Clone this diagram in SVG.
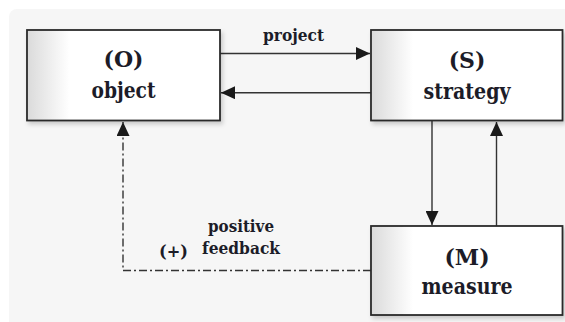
<svg xmlns="http://www.w3.org/2000/svg" width="565" height="322" viewBox="0 0 565 322">
<style>
.box{fill:url(#boxfill);stroke:#2b2b2b;stroke-width:1.8;filter:url(#shadow)}
.lbl{font-family:'DejaVu Serif',serif;font-weight:700;fill:#1c1c28;text-anchor:middle}
.big{font-size:22px}
.small{font-size:17px}
.edge{fill:none;stroke:#333;stroke-width:1.4}
.dash{stroke-dasharray:8 3 2 3}
</style>
<defs>
<linearGradient id="boxfill" x1="0" y1="0" x2="1" y2="0">
<stop offset="0" stop-color="#dadada"/>
<stop offset="0.22" stop-color="#ffffff"/>
<stop offset="1" stop-color="#ffffff"/>
</linearGradient>
<filter id="shadow" x="-10%" y="-10%" width="130%" height="130%">
<feDropShadow dx="2" dy="3" stdDeviation="2" flood-color="#000" flood-opacity="0.18"/>
</filter>
<marker id="arrow" markerUnits="userSpaceOnUse" markerWidth="15" markerHeight="13" refX="14" refY="6.5" orient="auto">
<path d="M0,0 L14,6.5 L0,13 z" fill="#1a1a1a"/>
</marker>
</defs>
<rect x="0" y="0" width="565" height="322" fill="#ffffff"/>
<rect x="9" y="9" width="580" height="340" rx="8" fill="#f6f6f6"/>
<g id="connectors">
<path class="edge" d="M220,53.5 H370" marker-end="url(#arrow)"/>
<path class="edge" d="M371,92.7 H221" marker-end="url(#arrow)"/>
<path class="edge" d="M432,121 V225" marker-end="url(#arrow)"/>
<path class="edge" d="M496.5,226 V122" marker-end="url(#arrow)"/>
<path class="edge dash" d="M371,270.5 H123 V122" marker-end="url(#arrow)"/>
<text class="lbl small" x="293.5" y="41" textLength="61" lengthAdjust="spacingAndGlyphs">project</text>
<text class="lbl small" x="241" y="232" textLength="66" lengthAdjust="spacingAndGlyphs">positive</text>
<text class="lbl small" x="241" y="253.5" textLength="78" lengthAdjust="spacingAndGlyphs">feedback</text>
<text class="lbl small" x="173.5" y="256.5" textLength="29" lengthAdjust="spacingAndGlyphs">(+)</text>
</g>
<g id="node-object">
<rect class="box" x="27" y="30" width="193" height="90.5"/>
<text class="lbl big" x="123.5" y="67">(O)</text>
<text class="lbl big" x="123.5" y="98" textLength="64" lengthAdjust="spacingAndGlyphs">object</text>
</g>
<g id="node-strategy">
<rect class="box" x="371" y="30" width="191.5" height="90.5"/>
<text class="lbl big" x="467" y="67.5">(S)</text>
<text class="lbl big" x="467" y="98.5" textLength="87" lengthAdjust="spacingAndGlyphs">strategy</text>
</g>
<g id="node-measure">
<rect class="box" x="371" y="226" width="191.5" height="89"/>
<text class="lbl big" x="467" y="264.5">(M)</text>
<text class="lbl big" x="467" y="294" textLength="91" lengthAdjust="spacingAndGlyphs">measure</text>
</g>
</svg>
